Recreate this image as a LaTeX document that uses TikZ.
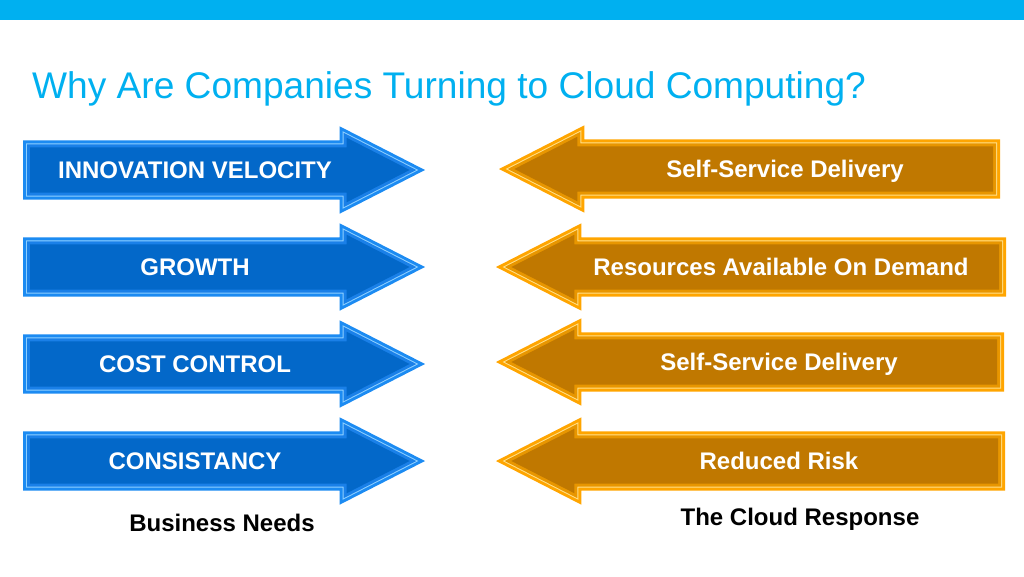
\documentclass[tikz,border=0pt]{standalone}
\usepackage{fontspec}
\setmainfont{Liberation Sans}
\usetikzlibrary{shapes.arrows}

\definecolor{titlecyan}{HTML}{00B0F0}
\definecolor{needrim}{HTML}{1C8BF2}
\definecolor{needline}{HTML}{8FD0FF}
\definecolor{needmid}{HTML}{1A80E8}
\definecolor{needfill}{HTML}{0368C9}
\definecolor{resprim}{HTML}{FFA500}
\definecolor{respline}{HTML}{FFE08A}
\definecolor{respmid}{HTML}{E89600}
\definecolor{respfill}{HTML}{C07800}

% layered arrow: name, tail x, tip x, y, colour prefix
\newcommand{\bevelarrow}[5]{%
  \pgfmathsetmacro{\dir}{sign(#3-#2)}%
  \pgfmathsetmacro{\len}{abs(#3-#2)}%
  \pgfmathsetmacro{\rot}{(1-\dir)*90}%
  \foreach \d/\c [count=\k] in {0/rim,3/line,4/mid,7/fill} {
    \pgfmathsetmacro{\hh}{(85-\d-\d/sin(27.1))*tan(27.1)}
    \pgfmathsetmacro{\ww}{2*\hh}
    \pgfmathsetmacro{\ll}{\len-\d-\d/sin(27.1)}
    \pgfmathsetmacro{\ss}{29.5-\d}
    \pgfmathsetmacro{\he}{\hh-\ss}
    \node[single arrow, fill=#5\c, inner xsep=0pt, inner ysep=\ss pt, outer sep=0pt,
          text height=0pt, text depth=0pt,
          minimum height=\ll pt, minimum width=\ww pt,
          single arrow head extend=\he pt, single arrow tip angle=54.2,
          shape border rotate=\rot, anchor=tail]
      (#1-\k) at (#2+\dir*\d, #4) {};
  }%
}

\begin{document}
\begin{tikzpicture}[x=1pt, y=-1pt,
    % texts on the arrows and below them
    arrowtext/.style={font=\fontsize{24}{28}\selectfont\bfseries, text=white, anchor=base, inner sep=0pt},
    captext/.style={font=\fontsize{24}{28}\selectfont\bfseries, text=black, anchor=base, inner sep=0pt},
    titletext/.style={font=\fontsize{37.1}{44}\selectfont, text=titlecyan, anchor=base west, inner sep=0pt}
]

    % page and top bar
    \useasboundingbox[fill=white] (0,0) rectangle (1024,576);
    \fill[titlecyan] (0,0) rectangle (1024,19.5);

    % title
    \node[titletext] (title) at (32,98) {Why Are Companies Turning to Cloud Computing?};

    % business needs (blue, pointing right)
    \foreach \i/\y/\txt in {1/170/INNOVATION VELOCITY, 2/267/GROWTH, 3/364/COST CONTROL, 4/461/CONSISTANCY} {
        \bevelarrow{need\i}{23}{425}{\y}{need}
        \node[arrowtext] (needtext\i) at (195,\y+8.6) {\txt};
    }

    % cloud response (orange, pointing left)
    \foreach \i/\a/\b/\y/\tx/\txt in {1/1000/499/169/785/Self-Service Delivery,
                                      2/1006/496/267/781/Resources Available On Demand,
                                      3/1004/496/362/779/Self-Service Delivery,
                                      4/1005/496/461/779/Reduced Risk} {
        \bevelarrow{resp\i}{\a}{\b}{\y}{resp}
        \node[arrowtext] (resptext\i) at (\tx,\y+8.6) {\txt};
    }

    % captions
    \node[captext] (needcap) at (222,531.5) {Business Needs};
    \node[captext] (respcap) at (800,525.5) {The Cloud Response};
\end{tikzpicture}
\end{document}
